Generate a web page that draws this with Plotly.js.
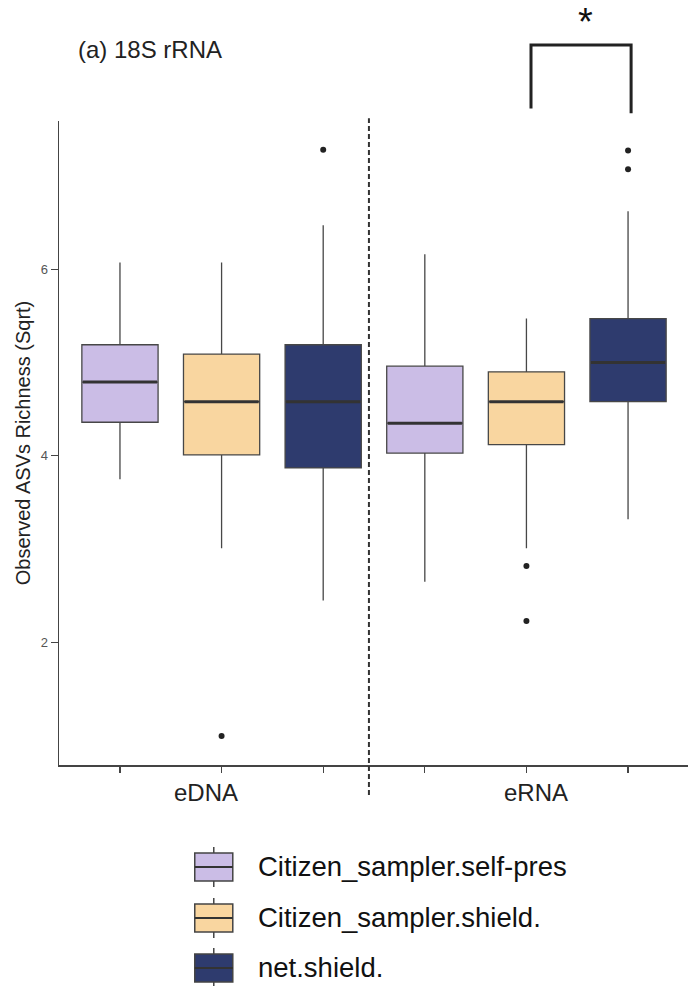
<!DOCTYPE html>
<html>
<head>
<meta charset="utf-8">
<script src="https://cdn.plot.ly/plotly-3.0.1.min.js"></script>
<style>html,body{margin:0;padding:0;background:#fff;}#chart{width:688px;height:986px;}</style>
</head>
<body>
<div id="chart"></div>
<script>
// ---- data ----
const types = ["eDNA", "eRNA"];
const groups = ["Citizen_sampler.self-pres", "Citizen_sampler.shield.", "net.shield."];
const colors = ["#CBBDE6", "#F9D6A0", "#2E3B6E"];

// per group, values for [eDNA, eRNA]
const lowerWhisker = [[3.75, 2.65], [3.01, 3.01], [2.45, 3.32]];
const q1Values     = [[4.36, 4.03], [4.01, 4.12], [3.87, 4.58]];
const medianValues = [[4.79, 4.35], [4.58, 4.58], [4.58, 5.00]];
const q3Values     = [[5.19, 4.96], [5.09, 4.90], [5.19, 5.47]];
const upperWhisker = [[6.07, 6.16], [6.07, 5.47], [6.47, 6.62]];
const outlierValues = [[[], []], [[1.00], [2.82, 2.23]], [[7.28], [7.27, 7.07]]];

const yTicks = [2, 4, 6];
const sigType = "eRNA", sigGroupA = 1, sigGroupB = 2, sigLabel = "*";

// ---- layout geometry ----
const W = 688, H = 986;
const PL = 59.3, PT = 120.7, PR = 688, PB = 765;
const PW = PR - PL, PH = PB - PT;
const XR = [0.4, 6.59], YR = [0.688, 7.587];
const px = x => (x - PL) / PW;
const py = y => (PB - y) / PH;
const yv = v => (v - YR[0]) / (YR[1] - YR[0]);
const FONT = "Liberation Sans, Arial, sans-serif";
const boxW = 0.75;

const pos = (t, g) => t * groups.length + g + 1;

const traces = [];
groups.forEach((g, gi) => {
  const xs = types.map((t, ti) => pos(ti, gi));
  traces.push({
    type: "box", name: g, x: xs,
    q1: q1Values[gi], median: medianValues[gi], q3: q3Values[gi],
    lowerfence: lowerWhisker[gi], upperfence: upperWhisker[gi],
    width: boxW, whiskerwidth: 0, boxpoints: false,
    fillcolor: colors[gi], line: {color: "#474747", width: 1.3},
    showlegend: false, hoverinfo: "skip"
  });
  // thick median
  const mx = [], my = [];
  types.forEach((t, ti) => {
    const c = pos(ti, gi);
    mx.push(c - boxW / 2 + 0.01, c + boxW / 2 - 0.01, null);
    my.push(medianValues[gi][ti], medianValues[gi][ti], null);
  });
  traces.push({type: "scatter", mode: "lines", x: mx, y: my,
    line: {color: "#333", width: 3}, showlegend: false, hoverinfo: "skip"});
  // outliers
  const ox = [], oy = [];
  types.forEach((t, ti) => outlierValues[gi][ti].forEach(v => { ox.push(pos(ti, gi)); oy.push(v); }));
  if (ox.length) traces.push({type: "scatter", mode: "markers", x: ox, y: oy,
    marker: {color: "#222", size: 6}, showlegend: false, hoverinfo: "skip", cliponaxis: false});
});

const shapes = [];
const annotations = [];

// dashed divider between eDNA and eRNA
shapes.push({type: "line", xref: "x", yref: "paper", x0: 3.45, x1: 3.45, y0: py(795), y1: py(118),
  line: {color: "#333", width: 2, dash: "5px,3px"}});

// significance bracket
const ti = types.indexOf(sigType);
const xa = pos(ti, sigGroupA) + 0.045, xb = pos(ti, sigGroupB) + 0.03;
const bTop = 8.40, bFootA = 7.72, bFootB = 7.67;
shapes.push({type: "path", xref: "x", yref: "paper",
  path: `M${xa},${yv(bFootA)} L${xa},${yv(bTop)} L${xb},${yv(bTop)} L${xb},${yv(bFootB)}`,
  line: {color: "#222", width: 3}});
annotations.push({xref: "x", yref: "paper", x: (xa + xb) / 2 + 0.04, y: py(22), text: sigLabel,
  showarrow: false, xanchor: "center", yanchor: "middle", font: {family: FONT, size: 38, color: "#111"}});

// category labels
const labelX = [1.85, 5.09];
types.forEach((t, i) => annotations.push({xref: "x", yref: "paper", x: labelX[i], y: py(793), text: t,
  showarrow: false, xanchor: "center", yanchor: "middle", font: {family: FONT, size: 24, color: "#222"}}));

// legend (ggplot style keys)
const legY = [867, 918, 968];
groups.forEach((g, i) => {
  const c = legY[i];
  shapes.push({type: "line", xref: "paper", yref: "paper", x0: px(214), x1: px(214), y0: py(c - 20), y1: py(c + 20),
    line: {color: "#444", width: 1.5}});
  shapes.push({type: "rect", xref: "paper", yref: "paper", x0: px(195), x1: px(233), y0: py(c - 14), y1: py(c + 14),
    fillcolor: colors[i], line: {color: "#444", width: 1.5}});
  shapes.push({type: "line", xref: "paper", yref: "paper", x0: px(195), x1: px(233), y0: py(c), y1: py(c),
    line: {color: "#333", width: 2}});
  annotations.push({xref: "paper", yref: "paper", x: px(256.5), y: py(c), text: g, showarrow: false,
    xanchor: "left", yanchor: "middle", font: {family: FONT, size: 27.5, color: "#111"}});
});

const layout = {
  width: W, height: H,
  margin: {l: PL, r: W - PR, t: PT, b: H - PB, pad: 0},
  paper_bgcolor: "#fff", plot_bgcolor: "#fff",
  font: {family: FONT},
  showlegend: false,
  title: {text: "(a) 18S rRNA", x: 78 / W, xanchor: "left", y: 1 - 50 / H, yanchor: "middle",
    font: {family: FONT, size: 24, color: "#222"}},
  xaxis: {range: XR, showgrid: false, zeroline: false, showline: true, linecolor: "#444", linewidth: 1.5,
    ticks: "outside", ticklen: 6, tickcolor: "#444", tickwidth: 1.2,
    tickvals: [1, 2, 3, 4, 5, 6], ticktext: ["", "", "", "", "", ""], fixedrange: true},
  yaxis: {range: YR, showgrid: false, zeroline: false, showline: true, linecolor: "#444", linewidth: 1.5,
    ticks: "outside", ticklen: 7, tickcolor: "#444", tickwidth: 1.2, tickvals: yTicks,
    tickfont: {family: FONT, size: 13, color: "#555"},
    title: {text: "Observed ASVs Richness (Sqrt)", font: {family: FONT, size: 20, color: "#222"}, standoff: 4},
    fixedrange: true},
  shapes: shapes, annotations: annotations
};

Plotly.newPlot("chart", traces, layout, {staticPlot: true, displayModeBar: false});
</script>
</body>
</html>
